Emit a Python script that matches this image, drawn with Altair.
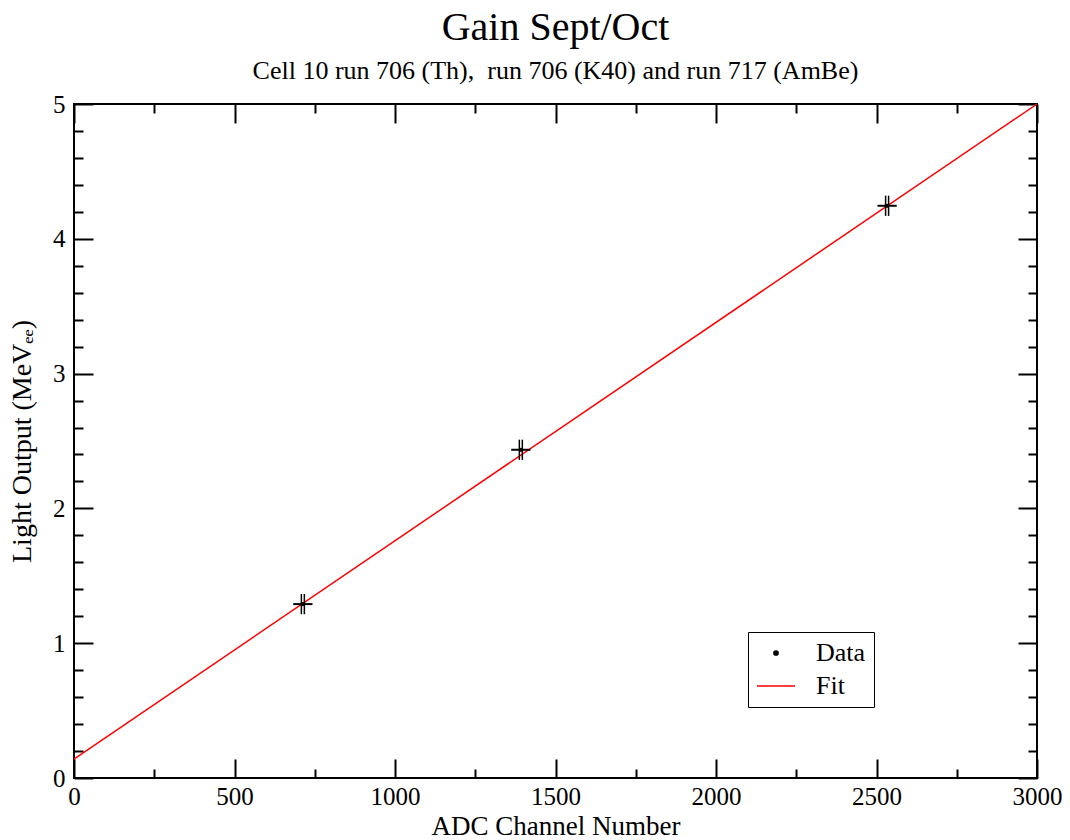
import altair as alt
import pandas as pd

# ---- data ----
adc = [713, 1392, 2533]
light = [1.29, 2.435, 4.245]
adc_err = [30, 30, 30]
light_err = [0.075, 0.075, 0.075]
series = ["Data", "Data", "Data"]

fit_adc = [0, 3000]
fit_light = [0.14, 5.0]
fit_series = ["Fit", "Fit"]

x_major = [0, 500, 1000, 1500, 2000, 2500, 3000]
x_minor = [250, 750, 1250, 1750, 2250, 2750]
y_major = [0, 1, 2, 3, 4, 5]
y_minor = [0.2, 0.4, 0.6, 0.8, 1.2, 1.4, 1.6, 1.8, 2.2, 2.4, 2.6, 2.8,
           3.2, 3.4, 3.6, 3.8, 4.2, 4.4, 4.6, 4.8]

W, H = 963, 674
FONT = "Liberation Serif"

pts = pd.DataFrame({
    "adc": adc, "light": light,
    "adc_lo": [a - e for a, e in zip(adc, adc_err)],
    "adc_hi": [a + e for a, e in zip(adc, adc_err)],
    "light_lo": [l - e for l, e in zip(light, light_err)],
    "light_hi": [l + e for l, e in zip(light, light_err)],
    "series": series,
})
fit = pd.DataFrame({"adc": fit_adc, "light": fit_light, "series": fit_series})

xs = alt.Scale(domain=[0, 3000], nice=False, zero=False)
ys = alt.Scale(domain=[0, 5], nice=False, zero=False)
cscale = alt.Scale(domain=["Data", "Fit"], range=["black", "red"])
sscale = alt.Scale(domain=["Data", "Fit"], range=["circle", "stroke"])
zscale = alt.Scale(domain=["Data", "Fit"], range=[18, 1444])

legend = alt.Legend(
    title=None, orient="none", legendX=674, legendY=528,
    strokeColor="black", fillColor="white", padding=8,
    labelFont=FONT, labelFontSize=26, labelColor="black",
    symbolStrokeWidth=1.5, rowPadding=-10, labelOffset=20,
)

fit_line = alt.Chart(fit).mark_line(strokeWidth=1.5).encode(
    x=alt.X("adc:Q", scale=xs, axis=None),
    y=alt.Y("light:Q", scale=ys, axis=None),
    color=alt.Color("series:N", scale=cscale, legend=legend),
)

hbar = alt.Chart(pts).mark_rule(color="black", strokeWidth=2).encode(
    x=alt.X("adc_lo:Q", scale=xs, axis=None), x2="adc_hi:Q",
    y=alt.Y("light:Q", scale=ys, axis=None),
)
vbar1 = alt.Chart(pts).mark_rule(color="black", strokeWidth=1.5, xOffset=-1.5).encode(
    x=alt.X("adc:Q", scale=xs, axis=None),
    y=alt.Y("light_lo:Q", scale=ys, axis=None), y2="light_hi:Q",
)
vbar2 = alt.Chart(pts).mark_rule(color="black", strokeWidth=1.5, xOffset=1.5).encode(
    x=alt.X("adc:Q", scale=xs, axis=None),
    y=alt.Y("light_lo:Q", scale=ys, axis=None), y2="light_hi:Q",
)
dots = alt.Chart(pts).mark_point(filled=True, opacity=1).encode(
    x=alt.X("adc:Q", scale=xs, axis=None),
    y=alt.Y("light:Q", scale=ys, axis=None),
    color=alt.Color("series:N", scale=cscale, legend=legend),
    shape=alt.Shape("series:N", scale=sscale, legend=legend),
    size=alt.Size("series:N", scale=zscale, legend=legend),
)

base_axis = dict(grid=False, domain=False, tickColor="black", tickWidth=2,
                 labelFont=FONT, titleFont=FONT, labelColor="black", titleColor="black")


def x_axis_layer(ax):
    return alt.Chart(pts).mark_point(opacity=0).encode(
        x=alt.X("adc:Q", scale=xs, axis=ax),
        y=alt.Y("light:Q", scale=ys, axis=None),
    )


def y_axis_layer(ax):
    return alt.Chart(pts).mark_point(opacity=0).encode(
        x=alt.X("adc:Q", scale=xs, axis=None),
        y=alt.Y("light:Q", scale=ys, axis=ax),
    )


axes = [
    # x labels + title
    x_axis_layer(alt.Axis(orient="bottom", values=x_major, ticks=False, labelFontSize=25,
                          labelPadding=6, format="d", title="ADC Channel Number", titleFontSize=27,
                          titleFontWeight="normal", titlePadding=4, labelFlush=False, **base_axis)),
    # inward ticks at bottom
    x_axis_layer(alt.Axis(orient="top", offset=-H, values=x_major, tickSize=19, labels=False, title=None, **base_axis)),
    x_axis_layer(alt.Axis(orient="top", offset=-H, values=x_minor, tickSize=9, labels=False, title=None, **base_axis)),
    # inward ticks at top
    x_axis_layer(alt.Axis(orient="bottom", offset=-H, values=x_major, tickSize=19, labels=False, title=None, **base_axis)),
    x_axis_layer(alt.Axis(orient="bottom", offset=-H, values=x_minor, tickSize=9, labels=False, title=None, **base_axis)),
    # y labels + title
    y_axis_layer(alt.Axis(orient="left", values=y_major, ticks=False, labelFontSize=25,
                          labelPadding=9, format="d", title="Light Output (MeVₑₑ)", titleFontSize=28,
                          titleFontWeight="normal", titlePadding=16, labelFlush=False, **base_axis)),
    # inward ticks at left
    y_axis_layer(alt.Axis(orient="right", offset=-W, values=y_major, tickSize=19, labels=False, title=None, **base_axis)),
    y_axis_layer(alt.Axis(orient="right", offset=-W, values=y_minor, tickSize=9, labels=False, title=None, **base_axis)),
    # inward ticks at right
    y_axis_layer(alt.Axis(orient="left", offset=-W, values=y_major, tickSize=19, labels=False, title=None, **base_axis)),
    y_axis_layer(alt.Axis(orient="left", offset=-W, values=y_minor, tickSize=9, labels=False, title=None, **base_axis)),
]

chart = alt.layer(fit_line, hbar, vbar1, vbar2, dots, *axes).resolve_axis(
    x="independent", y="independent"
).properties(
    width=W, height=H,
    autosize=alt.AutoSizeParams(type="none"),
    padding={"left": 74, "top": 104, "right": 33, "bottom": 62},
    background="white",
    title=alt.TitleParams(
        "Gain Sept/Oct",
        subtitle="Cell 10 run 706 (Th),\u00a0 run 706 (K40) and run 717 (AmBe)",
        font=FONT, fontSize=40, fontWeight="normal", color="black",
        subtitleFont=FONT, subtitleFontSize=26, subtitleColor="black",
        subtitlePadding=10, anchor="middle", offset=8,
    ),
).configure_view(
    stroke="black", strokeWidth=2
)

chart.save("out.html", embed_options={"renderer": "svg", "actions": False})
